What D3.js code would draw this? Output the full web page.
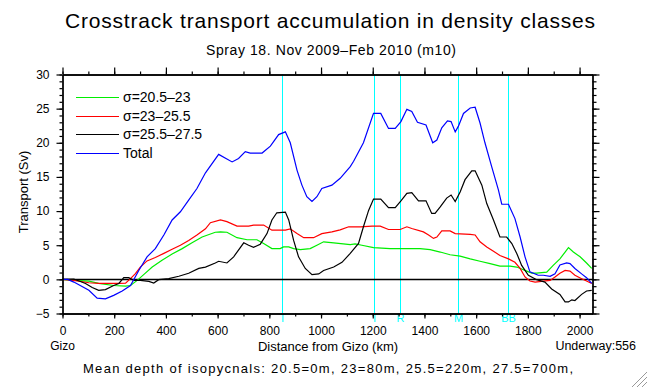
<!DOCTYPE html>
<html>
<head>
<meta charset="utf-8">
<script src="https://cdn.jsdelivr.net/npm/d3@7"></script>
<style>
  html, body { margin: 0; padding: 0; background: #fff; }
  svg text { font-family: "Liberation Sans", Arial, sans-serif; fill: #000; }
</style>
</head>
<body>
<div id="chart"></div>
<script>
// series: [distance km, accumulated transport Sv]
const sigma1 = [[0,0],[44,-0.15],[102,-0.25],[140,-0.6],[198,-0.9],[244,-1.0],[263,-0.9],[289,-0.15],[314,0.7],[347,1.8],[385,2.8],[424,3.7],[463,4.5],[501,5.35],[540,6.2],[591,6.9],[611,6.95],[636,6.9],[675,6.1],[714,5.8],[752,5.8],[778,5.25],[810,4.5],[842,4.5],[855,4.75],[875,4.75],[894,4.5],[920,4.35],[958,4.5],[984,5.0],[1010,5.5],[1049,5.35],[1113,5.1],[1132,5.2],[1158,5.0],[1203,4.65],[1267,4.5],[1332,4.5],[1383,4.5],[1422,4.35],[1461,4.0],[1499,3.6],[1538,3.4],[1577,3.0],[1615,2.65],[1654,2.3],[1692,1.95],[1731,1.95],[1757,1.8],[1796,1.2],[1815,0.9],[1834,0.9],[1873,1.05],[1898,2.05],[1924,3.0],[1944,4.0],[1957,4.65],[1976,4.0],[2002,3.3],[2027,2.4],[2047,1.6]];

const sigma2 = [[0,0],[44,-0.15],[102,-0.5],[140,-0.6],[218,-0.6],[244,-0.55],[263,0.1],[282,0.85],[301,1.8],[327,2.7],[359,3.2],[392,3.8],[424,4.4],[456,5.0],[488,5.7],[520,6.5],[553,7.4],[572,8.3],[611,8.7],[636,8.45],[675,7.8],[720,7.8],[739,7.95],[778,7.95],[810,7.2],[862,7.2],[881,7.4],[907,6.7],[933,6.1],[971,6.1],[1003,6.7],[1042,6.95],[1074,7.25],[1107,7.7],[1152,7.7],[1197,7.8],[1229,7.8],[1261,7.3],[1306,7.3],[1332,7.7],[1351,7.45],[1396,6.95],[1416,6.5],[1435,6.0],[1448,6.2],[1467,7.1],[1499,7.1],[1519,6.7],[1577,6.6],[1596,6.5],[1615,5.5],[1641,4.75],[1667,4.1],[1692,3.5],[1725,3.0],[1750,2.5],[1770,1.6],[1789,0.35],[1808,-0.25],[1828,-0.4],[1860,-0.25],[1886,-0.15],[1905,0.35],[1924,0.9],[1944,1.3],[1963,1.2],[1982,0.6],[2008,0.1],[2027,-0.25],[2047,-0.6]];

const sigma3 = [[0,0],[44,0.05],[89,-0.6],[115,-1.2],[140,-1.6],[166,-1.5],[198,-0.9],[218,-0.6],[237,0.25],[256,0.25],[276,-0.15],[301,-0.15],[334,-0.3],[353,-0.55],[372,-0.05],[411,0.1],[450,0.45],[488,0.9],[527,1.6],[553,1.8],[591,2.4],[604,2.65],[636,2.4],[662,3.3],[701,5.35],[720,5.0],[739,4.7],[765,5.15],[791,6.7],[810,8.7],[829,9.75],[862,9.85],[875,8.7],[894,5.7],[913,3.3],[939,1.6],[965,0.7],[991,0.8],[1010,1.3],[1049,1.8],[1081,2.5],[1113,3.8],[1145,5.25],[1164,7.7],[1184,10.1],[1203,11.75],[1231,11.75],[1261,10.5],[1287,10.5],[1309,11.5],[1332,12.6],[1351,12.7],[1377,11.5],[1406,11.5],[1428,9.65],[1441,9.65],[1461,10.6],[1486,11.9],[1503,12.35],[1519,11.4],[1538,12.8],[1557,14.6],[1583,15.9],[1596,15.9],[1622,13.8],[1641,11.1],[1667,8.7],[1692,6.2],[1718,6.2],[1738,5.25],[1757,3.8],[1776,2.05],[1802,0.6],[1834,-0.05],[1866,-0.4],[1892,-1.4],[1924,-2.2],[1944,-3.3],[1957,-3.3],[1970,-3.0],[1982,-3.1],[2008,-2.2],[2027,-1.7],[2047,-1.6]];

const total = [[0,0],[20,0],[44,-0.4],[102,-1.6],[134,-2.75],[166,-2.85],[198,-2.35],[231,-1.7],[263,-0.9],[295,1.3],[327,3.3],[359,4.5],[392,6.5],[424,8.7],[456,9.9],[488,11.6],[520,13.3],[553,15.6],[604,18.3],[656,17.2],[681,17.7],[707,18.7],[726,18.5],[772,18.5],[804,19.5],[836,21.2],[862,21.6],[881,20.0],[907,16.0],[926,13.8],[945,12.1],[965,11.4],[984,12.1],[1003,13.3],[1042,13.8],[1074,14.8],[1113,16.5],[1126,17.3],[1164,20.0],[1203,24.3],[1231,24.3],[1261,22.1],[1287,22.1],[1309,23.1],[1332,24.9],[1351,24.6],[1373,23.0],[1406,22.6],[1432,20.0],[1448,20.4],[1467,22.2],[1489,23.2],[1503,23.1],[1519,21.6],[1531,22.4],[1551,24.3],[1577,25.1],[1596,25.2],[1615,22.9],[1634,20.0],[1660,16.5],[1686,13.1],[1699,11.0],[1725,11.0],[1750,8.9],[1770,6.2],[1789,3.3],[1808,1.1],[1840,0.6],[1860,0.6],[1886,0.45],[1905,0.8],[1924,2.1],[1950,2.4],[1963,2.3],[1982,1.6],[2008,0.8],[2027,0.25],[2047,-0.6]];

const seriesNames = ["σ=20.5–23", "σ=23–25.5", "σ=25.5–27.5", "Total"];
const seriesColors = ["#00ee00", "#ff0000", "#000000", "#0000ff"];
const seriesData = [sigma1, sigma2, sigma3, total];

const stationNames = ["T", "T", "R", "M", "BB"];
const stationKm = [849, 1204, 1307, 1529, 1725];

const xTicks = [0, 200, 400, 600, 800, 1000, 1200, 1400, 1600, 1800, 2000];
const yTicks = [-5, 0, 5, 10, 15, 20, 25, 30];

const W = 648, H = 388;
const svg = d3.select("#chart").append("svg").attr("width", W).attr("height", H);
svg.append("rect").attr("width", W).attr("height", H).attr("fill", "#fff");

const x = d3.scaleLinear().domain([0, 2050]).range([62.5, 592.5]);
const y = d3.scaleLinear().domain([-5, 30]).range([313.5, 74.5]);
const [x0, x1] = x.range();
const [yB, yT] = y.range();

// titles
svg.append("text").attr("x", 330).attr("y", 28).attr("text-anchor", "middle")
  .attr("font-size", 21).attr("textLength", 530).attr("lengthAdjust", "spacing")
  .text("Crosstrack transport accumulation in density classes");
svg.append("text").attr("x", 331).attr("y", 55).attr("text-anchor", "middle")
  .attr("font-size", 14).attr("textLength", 250).attr("lengthAdjust", "spacing")
  .text("Spray 18. Nov 2009–Feb 2010 (m10)");

// station lines
const st = svg.append("g");
stationKm.forEach((k, i) => {
  const sx = Math.round(x(k)) + 0.5;
  st.append("line").attr("x1", sx).attr("x2", sx)
    .attr("y1", yT).attr("y2", yB).attr("stroke", "#00ffff").attr("stroke-width", 1);
  st.append("text").attr("x", sx).attr("y", 322).attr("text-anchor", "middle")
    .attr("font-size", 11).style("fill", "#00ffff").text(stationNames[i]);
});

// zero line
svg.append("line").attr("x1", x0).attr("x2", x1).attr("y1", Math.round(y(0)) + 0.5).attr("y2", Math.round(y(0)) + 0.5)
  .attr("stroke", "#000").attr("stroke-width", 1.3);

// series lines
const line = d3.line().x(d => x(d[0])).y(d => y(d[1]));
seriesData.forEach((s, i) => {
  svg.append("path").datum(s).attr("d", line).attr("fill", "none")
    .attr("stroke", seriesColors[i]).attr("stroke-width", 1.2);
});

// axes
const minorX = d3.range(0, 2050, 100);
const minorY = d3.range(-5, 31, 1);

function styleAxis(g) {
  g.select(".domain").attr("stroke", "#000").attr("stroke-width", 1.3);
  g.selectAll(".tick line").attr("stroke", "#000").attr("stroke-width", 1.2);
  g.selectAll("text").attr("font-size", 12).attr("font-family", "Liberation Sans, Arial, sans-serif");
}

svg.append("g").attr("transform", `translate(0,${yB})`)
  .call(d3.axisBottom(x).tickValues(minorX).tickSize(3).tickSizeOuter(0).tickFormat(""))
  .call(styleAxis);
svg.append("g").attr("transform", `translate(0,${yB})`)
  .call(d3.axisBottom(x).tickValues(xTicks).tickSize(5).tickSizeOuter(0).tickPadding(8).tickFormat(d3.format("d")))
  .call(styleAxis);

svg.append("g").attr("transform", `translate(0,${yT})`)
  .call(d3.axisTop(x).tickValues(minorX).tickSize(3).tickSizeOuter(0).tickFormat(""))
  .call(styleAxis);
svg.append("g").attr("transform", `translate(0,${yT})`)
  .call(d3.axisTop(x).tickValues(xTicks).tickSize(7).tickSizeOuter(0).tickFormat(""))
  .call(styleAxis);

svg.append("g").attr("transform", `translate(${x0},0)`)
  .call(d3.axisLeft(y).tickValues(minorY).tickSize(3).tickSizeOuter(0).tickFormat(""))
  .call(styleAxis);
svg.append("g").attr("transform", `translate(${x0},0)`)
  .call(d3.axisLeft(y).tickValues(yTicks).tickSize(6).tickSizeOuter(0).tickPadding(7)
    .tickFormat(d => d < 0 ? "−" + Math.abs(d) : d))
  .call(styleAxis);

svg.append("g").attr("transform", `translate(${x1},0)`)
  .call(d3.axisRight(y).tickValues(minorY).tickSize(4).tickSizeOuter(0).tickFormat(""))
  .call(styleAxis);
svg.append("g").attr("transform", `translate(${x1},0)`)
  .call(d3.axisRight(y).tickValues(yTicks).tickSize(7).tickSizeOuter(0).tickFormat(""))
  .call(styleAxis);

// axis titles
svg.append("text").attr("transform", "translate(28,192) rotate(-90)").attr("text-anchor", "middle")
  .attr("font-size", 13).text("Transport (Sv)");
svg.append("text").attr("x", 328).attr("y", 351).attr("text-anchor", "middle")
  .attr("font-size", 13).text("Distance from Gizo (km)");
svg.append("text").attr("x", x(0)).attr("y", 350).attr("text-anchor", "middle")
  .attr("font-size", 12).text("Gizo");
svg.append("text").attr("x", 636).attr("y", 350).attr("text-anchor", "end")
  .attr("font-size", 12.5).text("Underway:556");
svg.append("text").attr("x", 83).attr("y", 373)
  .attr("font-size", 13).attr("textLength", 490).attr("lengthAdjust", "spacing")
  .text("Mean depth of isopycnals: 20.5=0m,  23=80m,  25.5=220m,  27.5=700m,");

// legend
const leg = svg.append("g");
seriesNames.forEach((n, i) => {
  const ly = 97 + i * 18.5;
  leg.append("line").attr("x1", 76).attr("x2", 119).attr("y1", Math.round(ly) + 0.5).attr("y2", Math.round(ly) + 0.5)
    .attr("stroke", seriesColors[i]).attr("stroke-width", 1.2);
  leg.append("text").attr("x", 123).attr("y", ly + 5).attr("font-size", 14).text(n);
});

// resize grip in the corner
const grip = svg.append("g").attr("stroke", "#999").attr("stroke-width", 1);
[6, 11, 16].forEach(o => {
  grip.append("line").attr("x1", W - o).attr("y1", H - 1).attr("x2", W - 1).attr("y2", H - o);
});
</script>
</body>
</html>
